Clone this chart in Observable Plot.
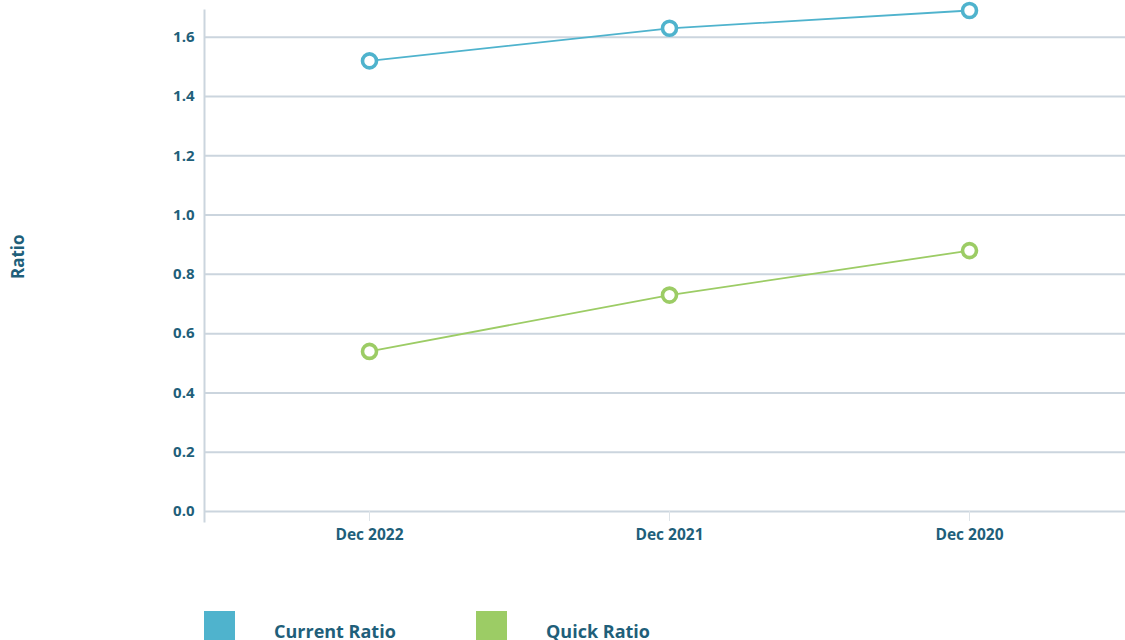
<!DOCTYPE html>
<html>
<head>
<meta charset="utf-8">
<script src="https://cdn.jsdelivr.net/npm/d3@7"></script>
<script src="https://cdn.jsdelivr.net/npm/@observablehq/plot@0.6"></script>
<style>
  html, body { margin: 0; padding: 0; background: #fff; }
  body { font-family: "Open Sans", sans-serif; width: 1125px; height: 640px; overflow: hidden; }
  #legend { position: relative; height: 80px; margin-top: 51px; }
  #legend .sw { position: absolute; top: 0; width: 31px; height: 29px; }
  #legend .lb { position: absolute; top: 7px; font-weight: 700; font-size: 18px; color: #1f5f7a; line-height: 26px; }
</style>
</head>
<body>
<div id="chart"></div>
<div id="legend"></div>
<script>
const periods = ["Dec 2022", "Dec 2021", "Dec 2020"];
const currentRatio = [1.52, 1.63, 1.69];
const quickRatio = [0.54, 0.73, 0.88];
const seriesNames = ["Current Ratio", "Quick Ratio"];
const seriesColors = ["#4fb3cd", "#9ccc65"];
const yTicks = [0, 0.2, 0.4, 0.6, 0.8, 1.0, 1.2, 1.4, 1.6];

const rows = [];
periods.forEach((p, i) => {
  rows.push({period: p, value: currentRatio[i], series: seriesNames[0]});
  rows.push({period: p, value: quickRatio[i], series: seriesNames[1]});
});

const textColor = "#1f5f7a";
const gridColor = "#cbd5de";

const chart = Plot.plot({
  width: 1125,
  height: 560,
  marginLeft: 204,
  marginRight: 0,
  marginTop: 10,
  marginBottom: 49,
  style: {fontFamily: "Open Sans", fontSize: "15px", fontWeight: 700, color: textColor, background: "#fff"},
  x: {type: "point", domain: periods, range: [204, 1134], padding: 0.55},
  y: {domain: [0, 1.69]},
  color: {domain: seriesNames, range: seriesColors},
  marks: [
    Plot.ruleY(yTicks, {stroke: gridColor, strokeWidth: 2}),
    Plot.frame({anchor: "left", stroke: gridColor, strokeWidth: 2, insetBottom: -10}),
    Plot.axisY({ticks: yTicks, tickSize: 0, tickPadding: 10, tickFormat: d3.format(".1f"), label: null, fill: textColor, fontWeight: 700, fontSize: 15}),
    Plot.axisX({tickSize: 10, tickPadding: 7, stroke: "#dde3e8", label: null, fill: textColor, fontWeight: 700, fontSize: 15.5}),
    Plot.text(["Ratio"], {frameAnchor: "left", dx: -186, dy: 18, rotate: -90, fill: textColor, fontWeight: 700, fontSize: 17}),
    Plot.line(rows, {x: "period", y: "value", z: "series", stroke: "series", strokeWidth: 1.8}),
    Plot.dot(rows, {x: "period", y: "value", stroke: "series", fill: "#fff", r: 7, strokeWidth: 3.6})
  ]
});
document.getElementById("chart").append(chart);

const legend = document.getElementById("legend");
const swX = [204, 476];
const lbX = [274, 546];
seriesNames.forEach((name, i) => {
  const sw = document.createElement("div");
  sw.className = "sw";
  sw.style.left = swX[i] + "px";
  sw.style.background = seriesColors[i];
  legend.append(sw);
  const lb = document.createElement("div");
  lb.className = "lb";
  lb.style.left = lbX[i] + "px";
  lb.textContent = name;
  legend.append(lb);
});
</script>
</body>
</html>
